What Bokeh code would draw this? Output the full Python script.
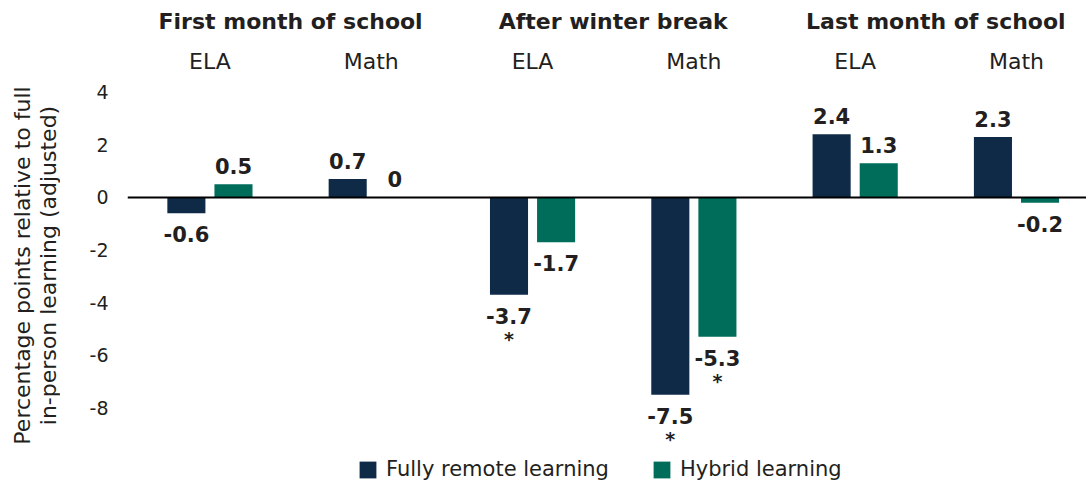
import math
from bokeh.plotting import figure
from bokeh.layouts import row
from bokeh.models import ColumnDataSource, Span, Legend, LegendItem, FixedTicker, Range1d
from bokeh.core.properties import value
from bokeh.embed import file_html
from bokeh.resources import INLINE

# ---- data ----
periods = ["First month of school", "After winter break", "Last month of school"]
subjects = ["ELA", "Math", "ELA", "Math", "ELA", "Math"]
remote = [-0.6, 0.7, -3.7, -7.5, 2.4, 2.3]
hybrid = [0.5, 0.0, -1.7, -5.3, 1.3, -0.2]
remote_sig = [False, False, True, True, False, False]
hybrid_sig = [False, False, False, True, False, False]
yticks = [-8, -6, -4, -2, 0, 2, 4]
series_names = ["Fully remote learning", "Hybrid learning"]
y_title_lines = ["Percentage points relative to full", "in-person learning (adjusted)"]

NAVY = "#0f2a47"
GREEN = "#006c5a"
TXT = "#231f20"
FONT = "DejaVu Sans"

OFF = 0.146
W = 0.236
TW = 60  # width of the axis-title strip
H = 481

# ---- axis title strip ----
pt = figure(width=TW, height=H, output_backend="svg", toolbar_location=None,
            x_range=Range1d(0, TW), y_range=Range1d(0, H),
            min_border=0, min_border_left=0, min_border_right=0, min_border_top=0, min_border_bottom=0)
pt.outline_line_color = None
pt.axis.visible = False
pt.grid.visible = False
pt.text(x=[22, 48], y=[H - 265] * 2, text=y_title_lines, angle=math.pi / 2,
        text_align="center", text_baseline="middle", text_font=value(FONT),
        text_font_size="22px", text_color=TXT)

# ---- main chart ----
p = figure(width=1086 - TW, height=H, output_backend="svg", toolbar_location=None,
           x_range=Range1d(-0.511, 5.434), y_range=Range1d(-10.80, 7.49),
           min_border_left=127 - TW, min_border_right=0, min_border_top=0, min_border_bottom=0)
p.outline_line_color = None
p.xgrid.visible = False
p.ygrid.visible = False
p.xaxis.visible = False
p.background_fill_color = "white"

yax = p.yaxis[0]
yax.ticker = FixedTicker(ticks=yticks)
yax.major_label_overrides = {t: str(t) for t in yticks}
yax.axis_line_color = None
yax.major_tick_line_color = None
yax.minor_tick_line_color = None
yax.major_label_text_font = FONT
yax.major_label_text_font_size = "19px"
yax.major_label_text_color = TXT
yax.major_label_standoff = 13

idx = list(range(len(subjects)))
src_r = ColumnDataSource(dict(x=[i - OFF for i in idx], top=remote))
src_h = ColumnDataSource(dict(x=[i + OFF for i in idx], top=hybrid))
r1 = p.vbar(x="x", top="top", bottom=0, width=W, source=src_r, fill_color=NAVY, line_color=None)
r2 = p.vbar(x="x", top="top", bottom=0, width=W, source=src_h, fill_color=GREEN, line_color=None)

p.add_layout(Span(location=0, dimension="width", line_color="black", line_width=2))

def labels(xs, vals, sig):
    pos = dict(x=[], y=[], t=[])
    neg = dict(x=[], y=[], t=[])
    star = dict(x=[], y=[], t=[])
    for x, v, s in zip(xs, vals, sig):
        txt = "0" if v == 0 else f"{v:g}"
        d = pos if v >= 0 else neg
        d["x"].append(x); d["y"].append(v); d["t"].append(txt)
        if s:
            star["x"].append(x); star["y"].append(v); star["t"].append("*")
    return pos, neg, star

for xs, vals, sig in [([i - OFF for i in idx], remote, remote_sig), ([i + OFF for i in idx], hybrid, hybrid_sig)]:
    pos, neg, star = labels(xs, vals, sig)
    p.text(x="x", y="y", text="t", source=ColumnDataSource(pos), text_align="center",
           text_baseline="bottom", y_offset=-10, text_font=value(FONT), text_font_size="21px",
           text_font_style="bold", text_color=TXT)
    p.text(x="x", y="y", text="t", source=ColumnDataSource(neg), text_align="center",
           text_baseline="top", y_offset=13, text_font=value(FONT), text_font_size="21px",
           text_font_style="bold", text_color=TXT)
    p.text(x="x", y="y", text="t", source=ColumnDataSource(star), text_align="center",
           text_baseline="top", y_offset=33, text_font=value(FONT), text_font_size="19px",
           text_font_style="bold", text_color=TXT)

# period headers and subject labels
p.text(x=[0.5 + 2 * k for k in range(len(periods))], y=[6.69] * len(periods), text=periods,
       text_align="center", text_baseline="middle", text_font=value(FONT),
       text_font_size="22px", text_font_style="bold", text_color=TXT)
p.text(x=idx, y=[5.17] * len(subjects), text=subjects, text_align="center",
       text_baseline="middle", text_font=value(FONT), text_font_size="22px", text_color=TXT)

legend = Legend(items=[LegendItem(label=series_names[0], renderers=[r1]),
                       LegendItem(label=series_names[1], renderers=[r2])],
                orientation="horizontal", location=(230, 0),
                label_text_font=FONT, label_text_font_size="21px", label_text_color=TXT,
                glyph_width=21, glyph_height=21, label_standoff=8, spacing=42,
                padding=0, margin=0, border_line_color=None, background_fill_alpha=0)
p.add_layout(legend)

layout = row(pt, p, spacing=0)
open("out.html", "w").write(file_html(layout, INLINE))
